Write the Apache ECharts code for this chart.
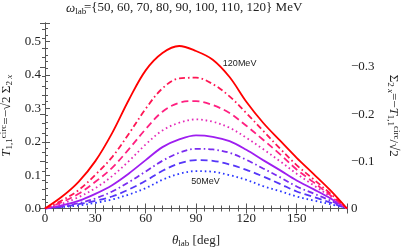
<!DOCTYPE html>
<html><head><meta charset="utf-8">
<script src="https://cdn.jsdelivr.net/npm/echarts@6/dist/echarts.min.js"></script>
<style>html,body{margin:0;padding:0;background:#fff}#c{width:402px;height:249px}</style>
</head><body><div id="c"></div>
<script>
const thetas = [0,10,20,30,40,50,60,70,80,90,100,110,120,130,140,150,160,170,180];
const energies = [50,60,70,80,90,100,110,120];
const t50  = [0,0.004,0.009,0.017,0.027,0.042,0.061,0.086,0.104,0.112,0.110,0.100,0.086,0.067,0.052,0.036,0.024,0.013,0];
const t60  = [0,0.005,0.013,0.023,0.036,0.057,0.083,0.113,0.135,0.145,0.143,0.132,0.116,0.096,0.074,0.051,0.035,0.018,0];
const t70  = [0,0.007,0.016,0.030,0.051,0.079,0.111,0.143,0.167,0.179,0.177,0.167,0.146,0.120,0.094,0.066,0.045,0.024,0];
const t80  = [0,0.009,0.023,0.044,0.070,0.105,0.145,0.184,0.207,0.219,0.215,0.202,0.176,0.145,0.115,0.084,0.058,0.031,0];
const t90  = [0,0.014,0.034,0.061,0.097,0.142,0.192,0.234,0.257,0.267,0.260,0.242,0.212,0.178,0.142,0.104,0.070,0.036,0];
const t100 = [0,0.019,0.044,0.080,0.122,0.178,0.238,0.290,0.317,0.322,0.310,0.286,0.248,0.206,0.163,0.117,0.079,0.040,0];
const t110 = [0,0.024,0.055,0.101,0.154,0.224,0.299,0.360,0.390,0.392,0.373,0.336,0.286,0.233,0.180,0.130,0.088,0.045,0];
const t120 = [0,0.035,0.080,0.142,0.226,0.326,0.414,0.466,0.487,0.472,0.446,0.394,0.320,0.257,0.204,0.152,0.104,0.055,0];
const seriesValues = [t50,t60,t70,t80,t90,t100,t110,t120];
const xTicks = [0,30,60,90,120,150];
const leftTicks = [0.0,0.1,0.2,0.3,0.4,0.5];
const rightTicks = [0,0.1,0.2,0.3];

const colors = ['#2a36ff','#5536f8','#7a2cf0','#9e1ef0','#e428b8','#ff2080','#ff1654','#ff0000'];
const dashes = [[1.6,3],[7,4],[6,3,1.6,3],'solid',[1.6,3],[7,4],[6,3,1.6,3],'solid'];

const serif = 'Liberation Serif';
const axisColor = '#555';
const YMAX = 0.556;

const chart = echarts.init(document.getElementById('c'), null, {renderer:'canvas'});

const series = seriesValues.map((vals,i)=>({
  name: energies[i]+'MeV',
  type:'line',
  smooth:0.35,
  showSymbol:false,
  symbol:'none',
  xAxisIndex:0, yAxisIndex:0,
  data: thetas.map((t,j)=>[t, vals[j]]),
  lineStyle:{color:colors[i], width:1.8, type:dashes[i], cap:'butt'},
  z: 2+i
}));
series[7].markPoint = {symbol:'circle', symbolSize:0, silent:true,
  data:[{coord:[116,0.435], label:{show:true, position:'inside', formatter:'120MeV', color:'#222', fontSize:9, fontFamily:'Liberation Sans'}}]};
series[0].markPoint = {symbol:'circle', symbolSize:0, silent:true,
  data:[{coord:[95.6,0.082], label:{show:true, position:'inside', formatter:'50MeV', color:'#222', fontSize:9, fontFamily:'Liberation Sans'}}]};

const tickCommon = {show:true, inside:true, length:5, lineStyle:{color:axisColor}};
const minorCommon = {show:true, length:3, splitNumber:5, lineStyle:{color:axisColor}};

chart.setOption({
  animation:false,
  backgroundColor:'#fff',
  title:[{
    text:'{w|ω}{s|lab}',
    left:66, top:1, padding:0,
    textStyle:{fontWeight:'normal', rich:{
      w:{fontFamily:serif, fontStyle:'italic', fontWeight:'normal', fontSize:13, color:'#222'},
      s:{fontFamily:serif, fontWeight:'normal', fontSize:9, color:'#222', verticalAlign:'bottom', padding:[6,0,0,0]}
    }}
  },{
    text:'={50, 60, 70, 80, 90, 100, 110, 120} MeV',
    left:84, top:1, padding:0,
    textStyle:{fontFamily:serif, fontSize:13, fontWeight:'normal', color:'#222'}
  }],
  grid:{left:45, right:55, top:23, bottom:40.5, outerBoundsMode:'none', containLabel:false},
  xAxis:[{
    type:'value', min:0, max:180, interval:30, position:'bottom',
    axisLine:{show:true, lineStyle:{color:axisColor}},
    axisTick:tickCommon, minorTick:{show:true,length:3,splitNumber:6,lineStyle:{color:axisColor}},
    splitLine:{show:false},
    axisLabel:{fontFamily:serif, fontSize:13, color:'#222', margin:4,
      formatter:v=> xTicks.includes(v)?String(v):''},
    name:'{t|θ}{s|lab}{n| [deg]}', nameLocation:'middle', nameGap:25,
    nameTextStyle:{rich:{
      t:{fontFamily:serif, fontStyle:'italic', fontSize:13, color:'#222'},
      s:{fontFamily:serif, fontSize:9, color:'#222', verticalAlign:'bottom', padding:[6,0,0,0]},
      n:{fontFamily:serif, fontSize:13, color:'#222'}
    }}
  },{
    type:'value', min:0, max:180, interval:30, position:'top',
    axisLine:{show:true, lineStyle:{color:axisColor}},
    axisTick:tickCommon, minorTick:{show:true,length:3,splitNumber:6,lineStyle:{color:axisColor}},
    splitLine:{show:false}, axisLabel:{show:false}
  }],
  yAxis:[{
    type:'value', min:0, max:YMAX, interval:0.1, position:'left',
    axisLine:{show:true, lineStyle:{color:axisColor}},
    axisTick:tickCommon, minorTick:minorCommon,
    splitLine:{show:false},
    axisLabel:{fontFamily:serif, fontSize:13, color:'#222', margin:4, showMaxLabel:false,
      formatter:v=>{const r=Math.round(v*10)/10; return leftTicks.some(t=>Math.abs(t-r)<1e-9)&&Math.abs(v-r)<1e-6? r.toFixed(1):'';}},
    name:'{T|T}{sb|1,1}{sp|circ}{n|=−√2 Σ}{sb|2 }{sbi|x}',
    nameLocation:'middle', nameGap:26, nameRotate:90,
    nameTextStyle:{rich:{
      T:{fontFamily:serif, fontStyle:'italic', fontSize:13, color:'#222'},
      sb:{fontFamily:serif, fontSize:9, color:'#222', verticalAlign:'bottom', padding:[6,0,0,0]},
      sbi:{fontFamily:serif, fontStyle:'italic', fontSize:9, color:'#222', verticalAlign:'bottom', padding:[6,0,0,0]},
      sp:{fontFamily:serif, fontSize:9, color:'#222', verticalAlign:'top', padding:[0,0,6,0]},
      n:{fontFamily:serif, fontSize:13, color:'#222'}
    }}
  },{
    type:'value', min:0, max:YMAX/Math.SQRT2, interval:0.1, position:'right',
    axisLine:{show:true, lineStyle:{color:axisColor}},
    axisTick:tickCommon, minorTick:minorCommon,
    splitLine:{show:false},
    axisLabel:{fontFamily:serif, fontSize:13, color:'#222', margin:4, showMaxLabel:false,
      formatter:v=>{const r=Math.round(v*10)/10; if(!(rightTicks.some(t=>Math.abs(t-r)<1e-9)&&Math.abs(v-r)<1e-6)) return ''; return r===0?'0':'−'+r.toFixed(1);}},
    name:'{S|Σ}{sb|2 }{sbi|x}{n|=−}{T|T}{sb|1,1}{sp|circ}{n|/√2}',
    nameLocation:'middle', nameGap:38, nameRotate:-90,
    nameTextStyle:{rich:{
      S:{fontFamily:serif, fontSize:13, color:'#222'},
      T:{fontFamily:serif, fontStyle:'italic', fontSize:13, color:'#222'},
      sb:{fontFamily:serif, fontSize:9, color:'#222', verticalAlign:'bottom', padding:[6,0,0,0]},
      sbi:{fontFamily:serif, fontStyle:'italic', fontSize:9, color:'#222', verticalAlign:'bottom', padding:[6,0,0,0]},
      sp:{fontFamily:serif, fontSize:9, color:'#222', verticalAlign:'top', padding:[0,0,6,0]},
      n:{fontFamily:serif, fontSize:13, color:'#222'}
    }}
  }],
  series: series
});
</script></body></html>
